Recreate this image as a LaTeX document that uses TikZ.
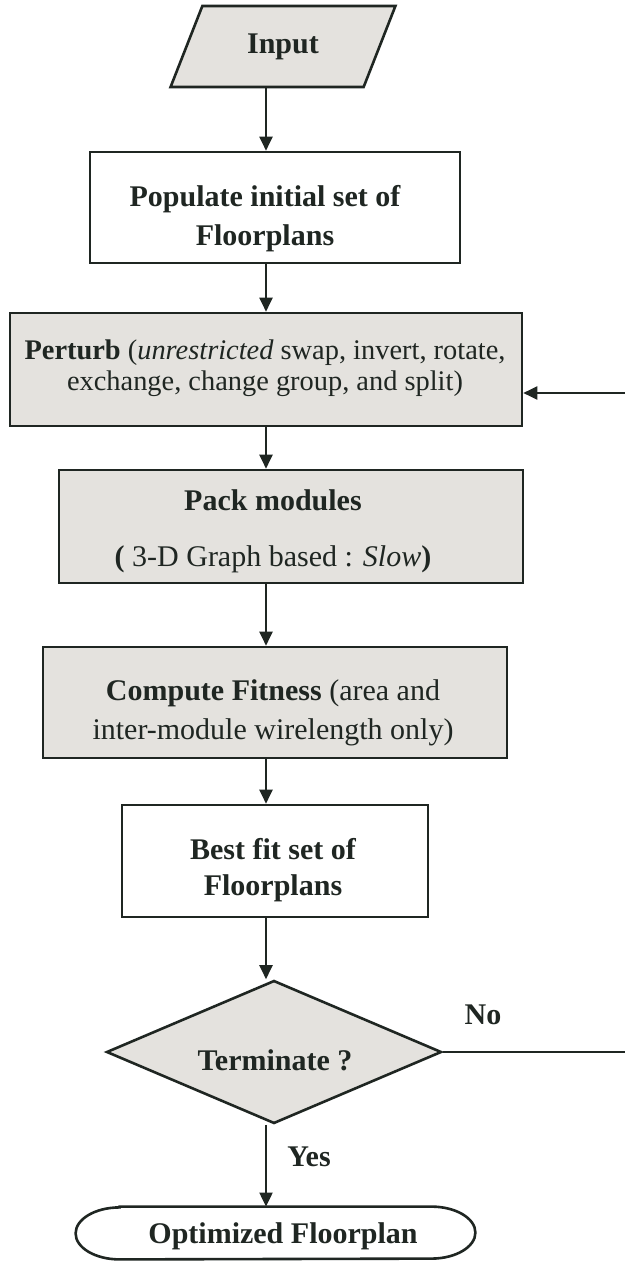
\documentclass[tikz,border=0pt]{standalone}
\usepackage{fontspec}
\setmainfont{Liberation Serif}
\usetikzlibrary{shapes.geometric,arrows.meta}
\definecolor{lc}{HTML}{1F2622}
\definecolor{boxgray}{HTML}{E4E2DE}
\begin{document}
\begin{tikzpicture}[x=0.5pt,y=-0.5pt,
  frame/.style={draw=lc, line width=1.3pt, inner sep=0pt},
  plainbox/.style={frame, rectangle, fill=white},
  shadedbox/.style={frame, rectangle, fill=boxgray},
  lbl/.style={align=center, inner sep=0pt, text=lc, font=\fontsize{15}{19.5}\selectfont},
  arr/.style={draw=lc, line width=1pt, -{Triangle[length=7pt,width=6.5pt]}},
  link/.style={draw=lc, line width=1pt}]
\useasboundingbox (0,0) rectangle (625,1261);
\fill[white] (0,0) rectangle (625,1261);
\coordinate (axis) at (266,0);
\coordinate (edge) at (625,0);
% shapes
\node[frame, trapezium, trapezium left angle=61.5, trapezium right angle=118.5,
      trapezium stretches=true, fill=boxgray, minimum width=112.5pt, minimum height=40.5pt,
      lbl, font=\fontsize{15}{19.5}\selectfont\bfseries] (inp) at (283,46.5) {Input};
\node[plainbox, minimum width=185pt, minimum height=55.5pt] (pop) at (275,207.5) {};
\node[lbl, font=\fontsize{15}{19.5}\selectfont\bfseries] (popt) at (265,218.5) {Populate initial set of\\Floorplans};
\node[shadedbox, minimum width=256pt, minimum height=56.5pt] (per) at (266,369.5) {};
\node[lbl, font=\fontsize{14.2}{15.5}\selectfont] (pert) at (265,368) {\textbf{Perturb} (\textit{unrestricted} swap, invert, rotate,\\exchange, change group, and split)};
\node[shadedbox, minimum width=232pt, minimum height=56.5pt] (pack) at (291,526.5) {};
\node[lbl, font=\fontsize{15}{28}\selectfont] (packt) at (273,531) {\textbf{Pack modules}\\\textbf{(} 3-D Graph based : \textit{Slow}\textbf{)}};
\node[shadedbox, minimum width=232pt, minimum height=55.5pt] (comp) at (275,702.5) {};
\node[lbl] (compt) at (273,712.5) {\textbf{Compute Fitness} (area and\\inter-module wirelength only)};
\node[plainbox, minimum width=153pt, minimum height=56pt] (best) at (275,861) {};
\node[lbl, font=\fontsize{15}{18}\selectfont\bfseries] (bestt) at (273,870) {Best fit set of\\Floorplans};
\node[frame, diamond, fill=boxgray, minimum width=167.5pt, minimum height=71.5pt] (dec) at (274,1052) {};
\node[lbl, font=\fontsize{15}{19.5}\selectfont\bfseries] (dect) at (275,1060) {Terminate ?};
\node[inner sep=0pt, minimum width=199.5pt, minimum height=26pt] (opt) at (275.5,1233) {};
\draw[draw=lc, line width=1.3pt, fill=white]
  ([xshift=22pt]opt.north west) -- ([xshift=-22pt]opt.north east)
  arc[start angle=-90, end angle=90, x radius=44, y radius=26]
  -- ([xshift=22pt]opt.south west)
  arc[start angle=90, end angle=270, x radius=44, y radius=26] -- cycle;
\node[lbl, font=\fontsize{15}{19.5}\selectfont\bfseries] (optt) at (283,1236) {Optimized Floorplan};
% connectors
\draw[arr] (inp.south -| axis) -- (pop.north -| axis);
\draw[arr] (pop.south -| axis) -- (per.north -| axis);
\draw[arr] (per.south -| axis) -- (pack.north -| axis);
\draw[arr] (pack.south -| axis) -- (comp.north -| axis);
\draw[arr] (comp.south -| axis) -- (best.north -| axis);
\draw[arr] (best.south -| axis) -- (dec.north -| axis);
\draw[arr] (dec.south -| axis) -- (opt.north -| axis);
\coordinate (fb) at (625,393);
\draw[link] (dec.east) -- (dec.east -| edge);
\draw[arr] (fb) -- (per.east |- fb);
% labels
\node[lbl, font=\fontsize{15}{19.5}\selectfont\bfseries] (nolbl) at (483,1015) {No};
\node[lbl, font=\fontsize{15}{19.5}\selectfont\bfseries] (yeslbl) at (309,1157) {Yes};
\end{tikzpicture}
\end{document}
